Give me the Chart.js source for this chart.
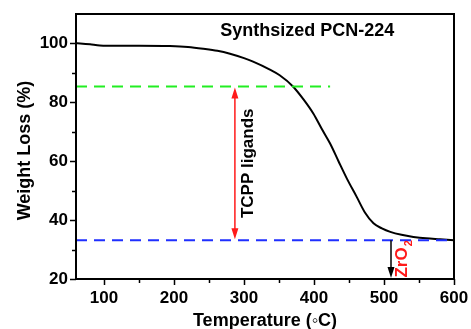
<!DOCTYPE html>
<html>
<head>
<meta charset="utf-8">
<script src="https://cdn.jsdelivr.net/npm/chart.js@4/dist/chart.umd.min.js"></script>
<style>
  html, body { margin: 0; padding: 0; background: #fff; }
  #wrap { width: 471px; height: 329px; }
</style>
</head>
<body>
<div id="wrap"><canvas id="tga"></canvas></div>
<script>
// TGA curve
const temps   = [60, 66, 80, 94, 120, 150, 194, 220, 242, 262, 280, 300, 313, 337, 351, 370, 385, 399, 411, 423, 435, 447, 461, 473, 485, 497, 509, 525, 542, 560, 580, 600];
const weights = [100.1, 100.0, 99.7, 99.3, 99.2, 99.2, 99.1, 98.8, 98.2, 97.5, 96.5, 95.0, 93.8, 91.1, 89.2, 85.4, 81.0, 76.2, 71.0, 66.0, 60.0, 54.1, 47.9, 42.5, 38.9, 37.2, 36.0, 35.0, 34.3, 33.8, 33.5, 33.2];

// reference levels
const ligandLevel = 85.4;
const ligandEnd = 423;
const oxideLevel = 33.2;

const xTicks = [100, 200, 300, 400, 500, 600];
const yTicks = [20, 40, 60, 80, 100];
const xMinor = [150, 250, 350, 450, 550];
const yMinor = [30, 50, 70, 90];

const FONT = "Arial, 'Liberation Sans', sans-serif";

var curve = temps.map((t, i) => ({ x: t, y: weights[i] }));

// frame, ticks, arrows and the labels
const decor = {
  id: 'decor',
  afterDatasetsDraw(chart) {
    const ctx = chart.ctx;
    const a = chart.chartArea;
    const xs = chart.scales.x, ys = chart.scales.y;
    ctx.save();

    ctx.strokeStyle = '#000';
    ctx.lineWidth = 2;
    ctx.strokeRect(a.left, a.top, a.right - a.left, a.bottom - a.top);

    ctx.lineWidth = 1.5;
    ctx.beginPath();
    xTicks.concat(xMinor).forEach(v => {
      let px = Math.round(xs.getPixelForValue(v)) + 0.5;
      let len = xTicks.includes(v) ? 6 : 4;
      ctx.moveTo(px, a.bottom);
      ctx.lineTo(px, a.bottom + len);
    });
    yTicks.concat(yMinor).forEach(v => {
      let py = Math.round(ys.getPixelForValue(v)) + 0.5;
      let len = yTicks.includes(v) ? 6 : 4;
      ctx.moveTo(a.left, py);
      ctx.lineTo(a.left - len, py);
    });
    ctx.stroke();

    // red double arrow (TCPP ligands)
    let ax = xs.getPixelForValue(287);
    let y1 = ys.getPixelForValue(ligandLevel), y2 = ys.getPixelForValue(oxideLevel);
    ctx.strokeStyle = '#ff1a1a';
    ctx.fillStyle = '#ff1a1a';
    ctx.lineWidth = 1.5;
    ctx.beginPath();
    ctx.moveTo(ax, y1 + 8);
    ctx.lineTo(ax, y2 - 8);
    ctx.stroke();
    ctx.beginPath();
    ctx.moveTo(ax, y1 + 1); ctx.lineTo(ax - 3.5, y1 + 12); ctx.lineTo(ax + 3.5, y1 + 12); ctx.closePath();
    ctx.moveTo(ax, y2 - 1); ctx.lineTo(ax - 3.5, y2 - 12); ctx.lineTo(ax + 3.5, y2 - 12); ctx.closePath();
    ctx.fill();

    // black arrow (ZrO2)
    let bx = xs.getPixelForValue(510);
    let b1 = ys.getPixelForValue(oxideLevel), b2 = ys.getPixelForValue(20);
    ctx.strokeStyle = '#000';
    ctx.fillStyle = '#000';
    ctx.beginPath();
    ctx.moveTo(bx, b1);
    ctx.lineTo(bx, b2 - 8);
    ctx.stroke();
    ctx.beginPath();
    ctx.moveTo(bx, b2 - 1); ctx.lineTo(bx - 3.5, b2 - 12); ctx.lineTo(bx + 3.5, b2 - 12); ctx.closePath();
    ctx.fill();

    // texts
    ctx.fillStyle = '#000';
    ctx.font = 'bold 18px ' + FONT;
    ctx.textAlign = 'left';
    ctx.textBaseline = 'alphabetic';
    ctx.fillText('Synthsized PCN-224', xs.getPixelForValue(266), ys.getPixelForValue(102.5));

    ctx.save();
    ctx.translate(xs.getPixelForValue(305.7), ys.getPixelForValue(59.3));
    ctx.rotate(-Math.PI / 2);
    ctx.textAlign = 'center';
    ctx.textBaseline = 'middle';
    ctx.font = 'bold 17px ' + FONT;
    ctx.fillText('TCPP ligands', 0, 0);
    ctx.restore();

    ctx.save();
    ctx.translate(xs.getPixelForValue(526), ys.getPixelForValue(20.5));
    ctx.rotate(-Math.PI / 2);
    ctx.fillStyle = '#ff1a1a';
    ctx.textAlign = 'left';
    ctx.textBaseline = 'middle';
    ctx.font = 'bold 17px ' + FONT;
    ctx.fillText('ZrO', 0, 0);
    let w = ctx.measureText('ZrO').width;
    ctx.font = 'bold 11px ' + FONT;
    ctx.fillText('2', w + 1, 7);
    ctx.restore();

    // axis titles
    ctx.font = 'bold 18px ' + FONT;
    ctx.textAlign = 'center';
    ctx.textBaseline = 'middle';
    ctx.fillText('Temperature (\u25E6C)', (a.left + a.right) / 2, a.bottom + 42);
    ctx.save();
    ctx.translate(a.left - 51, (a.top + a.bottom) / 2 + 4);
    ctx.rotate(-Math.PI / 2);
    ctx.fillText('Weight Loss (%)', 0, 0);
    ctx.restore();

    ctx.restore();
  }
};

new Chart(document.getElementById('tga'), {
  type: 'line',
  data: {
    datasets: [
      {
        data: [{ x: 60, y: ligandLevel }, { x: ligandEnd, y: ligandLevel }],
        borderColor: '#22ee22', borderWidth: 2, borderDash: [11, 7],
        pointRadius: 0, tension: 0
      },
      {
        data: [{ x: 60, y: oxideLevel }, { x: 600, y: oxideLevel }],
        borderColor: '#1f2fff', borderWidth: 2, borderDash: [11, 7],
        pointRadius: 0, tension: 0
      },
      {
        data: curve,
        borderColor: '#000', borderWidth: 2,
        pointRadius: 0, cubicInterpolationMode: 'monotone'
      }
    ]
  },
  options: {
    responsive: true,
    maintainAspectRatio: false,
    animation: false,
    layout: { padding: { left: 0, right: 17, top: 14, bottom: 0 } },
    plugins: { legend: { display: false }, tooltip: { enabled: false } },
    scales: {
      x: {
        type: 'linear', min: 60, max: 600,
        afterBuildTicks: s => { s.ticks = xTicks.map(v => ({ value: v })); },
        afterFit: s => { s.height = 50; s.paddingLeft = 0; s.paddingRight = 0; },
        grid: { display: false, drawTicks: false },
        border: { display: false },
        ticks: { color: '#000', font: { family: FONT, size: 17, weight: 'bold' }, padding: 9, maxRotation: 0 }
      },
      y: {
        type: 'linear', min: 20, max: 110,
        afterBuildTicks: s => { s.ticks = yTicks.map(v => ({ value: v })); },
        afterFit: s => { s.width = 76; s.paddingTop = 0; s.paddingBottom = 0; },
        grid: { display: false, drawTicks: false },
        border: { display: false },
        ticks: { color: '#000', font: { family: FONT, size: 17, weight: 'bold' }, padding: 8 }
      }
    }
  },
  plugins: [decor]
});
</script>
</body>
</html>
